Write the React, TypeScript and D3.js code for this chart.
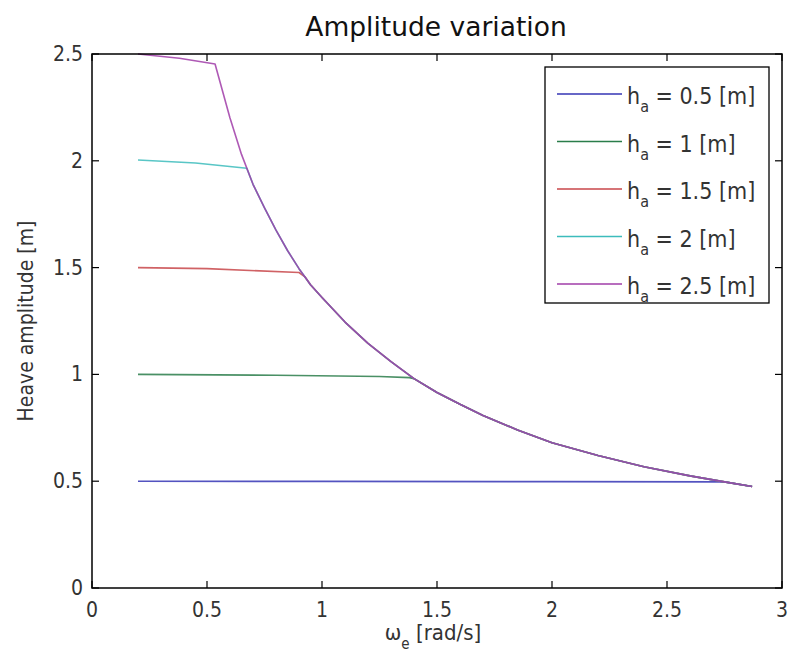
import React from "react";
import * as d3 from "d3";

// Shared high-frequency branch (heave amplitude limited by frequency)
const envOmega = [0.6, 0.65, 0.7, 0.75, 0.8, 0.85, 0.9, 0.95, 1.0, 1.1, 1.2, 1.3, 1.4, 1.5, 1.6, 1.7, 1.85, 2.0, 2.2, 2.4, 2.6, 2.75, 2.87];
const envAmp = [2.2, 2.03, 1.89, 1.78, 1.675, 1.58, 1.495, 1.42, 1.36, 1.245, 1.145, 1.06, 0.98, 0.915, 0.86, 0.808, 0.74, 0.68, 0.62, 0.568, 0.525, 0.497, 0.475];

// Low-frequency branch of each series, up to where it joins the shared branch
const flatOmega05 = [0.2, 1.0, 2.0, 2.74];
const flatAmp05 = [0.5, 0.499, 0.498, 0.497];
const flatOmega10 = [0.2, 0.8, 1.25, 1.38];
const flatAmp10 = [1.0, 0.996, 0.99, 0.985];
const flatOmega15 = [0.2, 0.5, 0.9, 0.926];
const flatAmp15 = [1.5, 1.495, 1.477, 1.457];
const flatOmega20 = [0.2, 0.45, 0.673];
const flatAmp20 = [2.004, 1.99, 1.965];
const flatOmega25 = [0.2, 0.38, 0.535];
const flatAmp25 = [2.5, 2.48, 2.453];

const seriesLabels = ["0.5", "1", "1.5", "2", "2.5"];
const seriesColors = ["#3535b5", "#2a7d4a", "#c8464a", "#3cbcbc", "#a03ca8"];

const xTicks = [0, 0.5, 1, 1.5, 2, 2.5, 3];
const yTicks = [0, 0.5, 1, 1.5, 2, 2.5];

const flats: [number[], number[]][] = [
  [flatOmega05, flatAmp05],
  [flatOmega10, flatAmp10],
  [flatOmega15, flatAmp15],
  [flatOmega20, flatAmp20],
  [flatOmega25, flatAmp25],
];

const seriesPoints = flats.map(([om, am]) => {
  const pts: [number, number][] = om.map((o, i) => [o, am[i]]);
  const last = om[om.length - 1];
  envOmega.forEach((o, i) => {
    if (o > last) pts.push([o, envAmp[i]]);
  });
  return pts;
});

const FONT = "'DejaVu Sans Condensed', 'DejaVu Sans', sans-serif";

export default function App() {
  const left = 92, right = 782, top = 54, bottom = 588;
  const x = d3.scaleLinear().domain([0, 3]).range([left, right]);
  const y = d3.scaleLinear().domain([0, 2.5]).range([bottom, top]);
  const line = d3
    .line<[number, number]>()
    .x((d) => x(d[0]))
    .y((d) => y(d[1]));
  const tickLen = 7;

  const legX = 545, legY = 67, legW = 224, legH = 236;
  const rowY0 = 94, rowStep = 47.5;

  return (
    <svg
      width={794}
      height={666}
      style={{ position: "absolute", left: 0, top: 0, background: "#fff" }}
      fontFamily={FONT}
    >
      <rect x={0} y={0} width={794} height={666} fill="#fff" />
      <text
        x={436}
        y={36}
        textAnchor="middle"
        fontSize={26.5}
        fontFamily="'DejaVu Sans', sans-serif"
        fill="#111"
      >
        Amplitude variation
      </text>

      {/* series */}
      <g fill="none" strokeWidth={1.6} strokeLinejoin="round">
        {seriesPoints.map((pts, i) => (
          <path key={i} d={line(pts) || ""} stroke={seriesColors[i]} strokeOpacity={0.85} />
        ))}
      </g>

      {/* axes box */}
      <rect x={left} y={top} width={right - left} height={bottom - top} fill="none" stroke="#000" strokeWidth={1.5} />
      {xTicks.map((t) => (
        <g key={"x" + t}>
          <line x1={x(t)} x2={x(t)} y1={bottom} y2={bottom - tickLen} stroke="#000" strokeWidth={1.2} />
          <line x1={x(t)} x2={x(t)} y1={top} y2={top + tickLen} stroke="#000" strokeWidth={1.2} />
          <text x={x(t)} y={bottom + 29} textAnchor="middle" fontSize={21} fill="#333" fontStretch="condensed">
            {String(t)}
          </text>
        </g>
      ))}
      {yTicks.map((t) => (
        <g key={"y" + t}>
          <line x1={left} x2={left + tickLen} y1={y(t)} y2={y(t)} stroke="#000" strokeWidth={1.2} />
          <line x1={right} x2={right - tickLen} y1={y(t)} y2={y(t)} stroke="#000" strokeWidth={1.2} />
          <text x={left - 9} y={y(t) + 7} textAnchor="end" fontSize={21} fill="#333" fontStretch="condensed">
            {String(t)}
          </text>
        </g>
      ))}

      {/* axis labels */}
      <text x={433} y={640} textAnchor="middle" fontSize={22} fill="#333" fontStretch="condensed">
        ω<tspan dy={9} fontSize={15}>e</tspan>
        <tspan dy={-9}> [rad/s]</tspan>
      </text>
      <text
        transform={`translate(33,${(top + bottom) / 2}) rotate(-90)`}
        textAnchor="middle"
        fontSize={21}
        fill="#333"
        fontStretch="condensed"
      >
        Heave amplitude [m]
      </text>

      {/* legend */}
      <rect x={legX} y={legY} width={legW} height={legH} fill="#fff" stroke="#000" strokeWidth={1.3} />
      {seriesLabels.map((lab, i) => {
        const ry = rowY0 + i * rowStep;
        return (
          <g key={lab}>
            <line x1={557} x2={622} y1={ry} y2={ry} stroke={seriesColors[i]} strokeWidth={1.6} />
            <text x={627} y={ry + 10} fontSize={23} fill="#333" fontStretch="condensed">
              h<tspan dy={8} fontSize={16}>a</tspan>
              <tspan dy={-8}>{` = ${lab} [m]`}</tspan>
            </text>
          </g>
        );
      })}
    </svg>
  );
}
